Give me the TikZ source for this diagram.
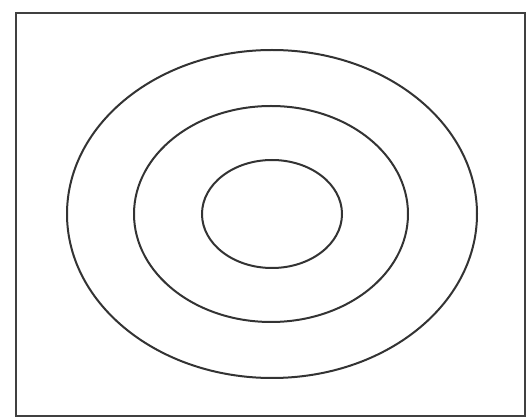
\documentclass[tikz,border=0pt]{standalone}
\begin{document}
\begin{tikzpicture}[x=1pt,y=-1pt,
  ring/.style={draw=black!80, line width=2pt},
  frame/.style={draw=black!75, line width=2.6pt}]
\useasboundingbox (0,0) rectangle (528,419);
\draw[frame] (16,13) rectangle (525,416);
\draw[ring] (272,214) ellipse [x radius=205, y radius=164];
\draw[ring] (271,214) ellipse [x radius=137, y radius=108];
\draw[ring] (272,214) ellipse [x radius=70, y radius=54];
\end{tikzpicture}
\end{document}
